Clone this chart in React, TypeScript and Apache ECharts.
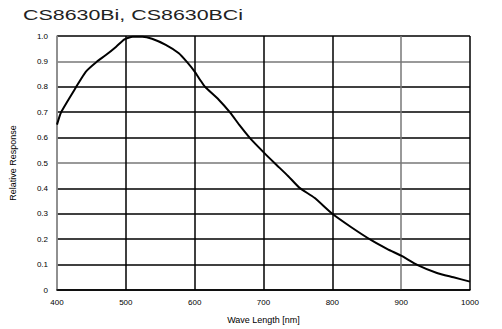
import React, { useEffect, useRef } from "react";
import * as echarts from "echarts";

const titleText = "CS8630Bi, CS8630BCi";
const xName = "Wave Length [nm]";
const yName = "Relative Response";

const wavelengths = [400, 406, 428, 442, 457, 471, 486, 498, 510, 524, 538, 558, 577, 589, 600, 608, 615, 635, 651, 666, 681, 701, 716, 736, 752, 774, 800, 827, 856, 880, 900, 924, 952, 976, 1000];
const response = [0.651, 0.70, 0.80, 0.86, 0.897, 0.925, 0.958, 0.987, 0.997, 0.997, 0.989, 0.965, 0.932, 0.897, 0.86, 0.827, 0.80, 0.749, 0.70, 0.646, 0.596, 0.54, 0.50, 0.448, 0.403, 0.363, 0.30, 0.248, 0.197, 0.161, 0.135, 0.098, 0.067, 0.05, 0.033];

const xGridColors = ["#888888", "#000000", "#000000", "#000000", "#000000", "#777777", "#000000"];
const yGridColors = ["#000000", "#000000", "#000000", "#000000", "#000000", "#777777", "#000000", "#000000", "#000000", "#777777", "#000000"];

export default function App() {
  const ref = useRef<HTMLDivElement>(null);
  useEffect(() => {
    if (!ref.current) return;
    const chart = echarts.init(ref.current, null, { renderer: "svg" });
    const data = wavelengths.map((w, i) => [w, response[i]]);
    chart.setOption({
      animation: false,
      backgroundColor: "#ffffff",
      textStyle: { fontFamily: "Liberation Sans, Arial, sans-serif" },
      graphic: [
        {
          type: "text",
          x: 23,
          y: 8,
          scaleX: 1.53,
          style: {
            text: titleText,
            fontSize: 14,
            fontWeight: "normal",
            fontFamily: "Liberation Sans, Arial, sans-serif",
            fill: "#222222",
          },
        },
      ],
      grid: { left: 54, right: 32, top: 36, bottom: 38, containLabel: false },
      xAxis: {
        type: "value",
        min: 400,
        max: 1000,
        interval: 100,
        name: xName,
        nameLocation: "middle",
        nameGap: 25,
        nameTextStyle: { fontSize: 9, color: "#000" },
        axisLine: { show: true, lineStyle: { color: "#000", width: 1.5 } },
        axisTick: { show: false },
        axisLabel: { fontSize: 8, color: "#000", margin: 8, formatter: (v: number) => String(v) },
        splitLine: { show: true, lineStyle: { color: xGridColors, width: 1.5 } },
      },
      yAxis: {
        type: "value",
        min: 0,
        max: 1,
        interval: 0.1,
        name: yName,
        nameLocation: "middle",
        nameGap: 40,
        nameRotate: 90,
        nameTextStyle: { fontSize: 9, color: "#000" },
        axisLine: { show: true, lineStyle: { color: "#888", width: 1.5 } },
        axisTick: { show: false },
        axisLabel: {
          fontSize: 8,
          color: "#000",
          margin: 9,
          formatter: (v: number) => (v === 0 ? "0" : v.toFixed(1)),
        },
        splitLine: { show: true, lineStyle: { color: yGridColors, width: 1.5 } },
      },
      series: [
        {
          type: "line",
          data,
          smooth: 0.2,
          showSymbol: false,
          lineStyle: { color: "#000", width: 2 },
        },
      ],
    });
    return () => chart.dispose();
  }, []);
  return <div ref={ref} style={{ position: "fixed", left: 0, top: 0, width: 502, height: 329 }} />;
}
